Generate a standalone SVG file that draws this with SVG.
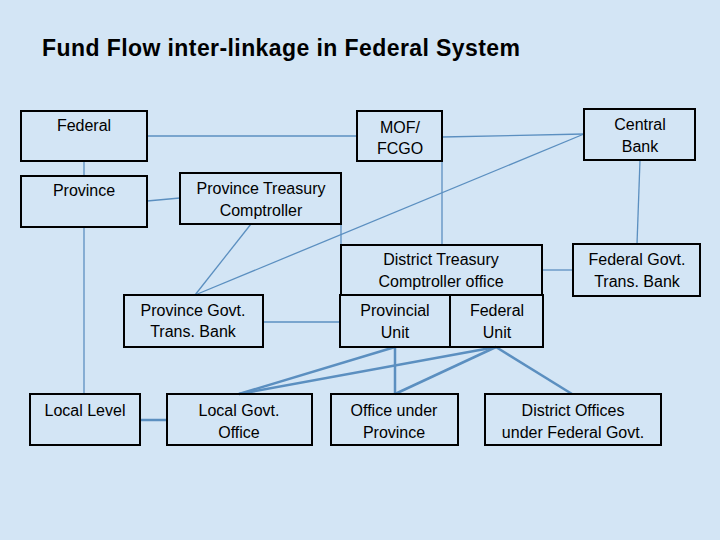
<svg xmlns="http://www.w3.org/2000/svg" width="720" height="540" viewBox="0 0 720 540">
<style>
.b{fill:none;stroke:#000;stroke-width:2}
.t{font-family:"Liberation Sans",Arial,sans-serif;font-size:16px;fill:#000;text-anchor:middle}
.c line{stroke:#5b8fc0;stroke-width:1.3}
.c .k{stroke-width:2.5}
</style>
<rect width="720" height="540" fill="#d3e5f5"/>
<text x="42" y="56" textLength="478" style="font-family:'Liberation Sans',Arial,sans-serif;font-size:23px;font-weight:bold">Fund Flow inter-linkage in Federal System</text>
<g class="c" id="connectors">
<line x1="147" y1="136" x2="357" y2="136"/>
<line x1="442" y1="137" x2="584" y2="134"/>
<line x1="84" y1="161" x2="84" y2="176"/>
<line x1="147" y1="201" x2="180" y2="198"/>
<line x1="84" y1="227" x2="84" y2="394"/>
<line x1="251" y1="224" x2="195" y2="295"/>
<line x1="584" y1="134" x2="195" y2="295"/>
<line x1="341" y1="200" x2="341" y2="245"/>
<line x1="442" y1="161" x2="442" y2="245"/>
<line x1="640" y1="160" x2="637" y2="244"/>
<line x1="542" y1="270" x2="573" y2="270"/>
<line x1="263" y1="322" x2="340" y2="322"/>
<line class="k" x1="395" y1="347" x2="239" y2="394"/>
<line class="k" x1="395" y1="347" x2="395" y2="394"/>
<line class="k" x1="496" y1="347" x2="239" y2="394"/>
<line class="k" x1="496" y1="347" x2="395" y2="394"/>
<line class="k" x1="496" y1="347" x2="572" y2="394"/>
<line class="k" x1="140" y1="420" x2="167" y2="420"/>
</g>
<g id="federal"><rect class="b" x="21" y="111" width="126" height="50"/><text class="t" x="84" y="131">Federal</text></g>
<g id="mof"><rect class="b" x="357" y="111" width="85" height="50"/><text class="t" x="400" y="133">MOF/</text><text class="t" x="400" y="154">FCGO</text></g>
<g id="centralbank"><rect class="b" x="584" y="109" width="111" height="51"/><text class="t" x="640" y="130">Central</text><text class="t" x="640" y="152">Bank</text></g>
<g id="province"><rect class="b" x="21" y="176" width="126" height="51"/><text class="t" x="84" y="196">Province</text></g>
<g id="ptc"><rect class="b" x="180" y="173" width="161" height="51"/><text class="t" x="261" y="194">Province Treasury</text><text class="t" x="261" y="216">Comptroller</text></g>
<g id="dtc"><rect class="b" x="341" y="245" width="201" height="50"/><text class="t" x="441" y="265">District Treasury</text><text class="t" x="441" y="287">Comptroller office</text></g>
<g id="fgtb"><rect class="b" x="573" y="244" width="127" height="52"/><text class="t" x="637" y="265">Federal Govt.</text><text class="t" x="637" y="287">Trans. Bank</text></g>
<g id="pgtb"><rect class="b" x="124" y="295" width="139" height="52"/><text class="t" x="193" y="316">Province Govt.</text><text class="t" x="193" y="337">Trans. Bank</text></g>
<g id="provunit"><rect class="b" x="340" y="295" width="110" height="52"/><text class="t" x="395" y="316">Provincial</text><text class="t" x="395" y="338">Unit</text></g>
<g id="fedunit"><rect class="b" x="450" y="295" width="93" height="52"/><text class="t" x="497" y="316">Federal</text><text class="t" x="497" y="338">Unit</text></g>
<g id="locallevel"><rect class="b" x="30" y="394" width="110" height="51"/><text class="t" x="85" y="416">Local Level</text></g>
<g id="lgo"><rect class="b" x="167" y="394" width="145" height="51"/><text class="t" x="239" y="416">Local Govt.</text><text class="t" x="239" y="438">Office</text></g>
<g id="oup"><rect class="b" x="331" y="394" width="127" height="51"/><text class="t" x="394" y="416">Office under</text><text class="t" x="394" y="438">Province</text></g>
<g id="district"><rect class="b" x="485" y="394" width="176" height="51"/><text class="t" x="573" y="416">District Offices</text><text class="t" x="573" y="438">under Federal Govt.</text></g>
</svg>
